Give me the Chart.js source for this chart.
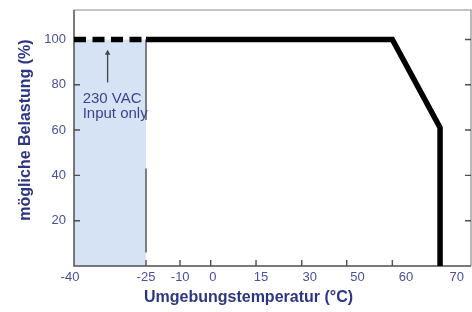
<!DOCTYPE html>
<html><head><meta charset="utf-8">
<script src="https://cdn.jsdelivr.net/npm/chart.js@4.4.1/dist/chart.umd.min.js"></script>
<style>html,body{margin:0;padding:0;background:#fff}</style>
</head><body>
<canvas id="c" width="472" height="312"></canvas>
<script>
// ---- data ----
const xTickValues = [-40, -25, -10, 0, 15, 30, 50, 60, 70];
const yTickValues = [20, 40, 60, 80, 100];
const dashedTemp = [-40, -25];
const dashedLoad = [100, 100];
const solidTemp = [-25, 60, 70, 70];
const solidLoad = [100, 100, 61, 0];
const shadeTemp = [-40, -25];
const shadeLoad = [100, 100];
const boundaryTemp = [-25, -25];
const boundaryUpperLoad = [100, 64.5];
const boundaryLowerLoad = [43, 6];
const arrowTemp = [-33, -33];
const arrowLoad = [81, 94];
const noteLines = ['230 VAC', 'Input only'];
const noteTemp = -38.2;
const noteLoad = [72, 65.3];
const xTitle = 'Umgebungstemperatur (°C)';
const yTitle = 'mögliche Belastung (%)';

const pts = (xs, ys) => xs.map((x, i) => ({x, y: ys[i]}));

// ---- piecewise-linear axis (the original axis is not evenly spaced) ----
class BrokenScale extends Chart.LinearScale {
  _pos(v) {
    const bv = this.options.breakValues, bp = this.options.breakOffsets;
    let i = 0;
    while (i < bv.length - 2 && v > bv[i + 1]) i++;
    return bp[i] + (v - bv[i]) * (bp[i + 1] - bp[i]) / (bv[i + 1] - bv[i]);
  }
  getPixelForValue(v) {
    const a = this._pos(this.min), b = this._pos(this.max);
    return this.getPixelForDecimal((this._pos(v) - a) / (b - a));
  }
  getValueForPixel(px) {
    const a = this._pos(this.min), b = this._pos(this.max);
    const p = a + this.getDecimalForPixel(px) * (b - a);
    const bv = this.options.breakValues, bp = this.options.breakOffsets;
    let i = 0;
    while (i < bp.length - 2 && p > bp[i + 1]) i++;
    return bv[i] + (p - bp[i]) * (bv[i + 1] - bv[i]) / (bp[i + 1] - bp[i]);
  }
  buildTicks() { return this.options.tickValues.map(v => ({value: v})); }
  getPixelForTick(index) {
    const px = this.getPixelForValue(this.ticks[index].value);
    const o = this.options;
    const d = px - this.left;
    return px + Math.max(0, (d - o.labelSpreadFrom) * o.labelSpread) - (d < 1 ? 4 : 0);
  }
}
BrokenScale.id = 'broken';
BrokenScale.defaults = Chart.LinearScale.defaults;
Chart.register(BrokenScale);

const FONT = '"Liberation Sans", Arial, Helvetica, sans-serif';
const tickColor = '#4a4f9e';
const titleColor = '#2d3685';

const framePlugin = {
  id: 'frame',
  afterDatasetDraw(chart, args) {
    if (args.index !== 0) return; // right after the shaded band
    const {ctx, chartArea: ca, scales: {x, y}} = chart;
    ctx.save();
    // top and right edges: lighter
    ctx.strokeStyle = '#8a8a8a';
    ctx.lineWidth = 1.2;
    ctx.beginPath();
    ctx.moveTo(ca.left, ca.top); ctx.lineTo(ca.right, ca.top); ctx.lineTo(ca.right, ca.bottom);
    ctx.stroke();
    // left and bottom axes: darker
    ctx.strokeStyle = '#4f4f4f';
    ctx.lineWidth = 1.5;
    ctx.beginPath();
    ctx.moveTo(ca.left, ca.top); ctx.lineTo(ca.left, ca.bottom); ctx.lineTo(ca.right, ca.bottom);
    ctx.stroke();
    ctx.lineWidth = 1.4;
    ctx.beginPath();
    xTickValues.forEach(v => {
      const px = x.getPixelForValue(v);
      if (px <= ca.left + 1) return;
      ctx.moveTo(px, ca.bottom); ctx.lineTo(px, ca.bottom - 6);
    });
    yTickValues.forEach(v => {
      const py = y.getPixelForValue(v);
      ctx.moveTo(ca.left, py); ctx.lineTo(ca.left + 6, py);
      ctx.moveTo(ca.right, py); ctx.lineTo(ca.right - 6, py);
    });
    ctx.stroke();
    ctx.restore();
  },
  afterDraw(chart) {
    const {ctx, scales: {x, y}} = chart;
    ctx.save();
    ctx.fillStyle = '#3d4393';
    ctx.font = '15px ' + FONT;
    ctx.textAlign = 'left';
    ctx.textBaseline = 'alphabetic';
    noteLines.forEach((t, i) => ctx.fillText(t, x.getPixelForValue(noteTemp), y.getPixelForValue(noteLoad[i])));
    ctx.fillStyle = titleColor;
    ctx.font = 'bold 16px ' + FONT;
    ctx.textAlign = 'center';
    ctx.fillText(xTitle, 248.5, 302);
    ctx.translate(29.5, 130);
    ctx.rotate(-Math.PI / 2);
    ctx.fillText(yTitle, 0, 0);
    ctx.restore();
  }
};

new Chart(document.getElementById('c'), {
  type: 'line',
  data: {
    datasets: [
      { data: pts(shadeTemp, shadeLoad), fill: 'origin', backgroundColor: '#d6e3f4',
        borderColor: 'rgba(0,0,0,0)', borderWidth: 0, pointRadius: 0, order: 3 },
      { data: pts(boundaryTemp, boundaryUpperLoad), borderColor: '#5a5a5a', borderWidth: 1.5,
        pointRadius: 0, fill: false, order: 2 },
      { data: pts(boundaryTemp, boundaryLowerLoad), borderColor: '#5a5a5a', borderWidth: 1.5,
        pointRadius: 0, fill: false, order: 2 },
      { data: pts(arrowTemp, arrowLoad), borderColor: '#444', borderWidth: 1.3,
        pointRadius: [0, 3.2], pointStyle: 'triangle', pointBackgroundColor: '#444',
        pointBorderWidth: 0, fill: false, order: 2 },
      { data: pts(dashedTemp, dashedLoad), borderColor: '#000', borderWidth: 5.5,
        borderDash: [12, 6.5], borderCapStyle: 'butt', pointRadius: 0, fill: false, order: 1 },
      { data: pts(solidTemp, solidLoad), borderColor: '#000', borderWidth: 5.5,
        borderJoinStyle: 'miter', borderCapStyle: 'butt', pointRadius: 0, fill: false, order: 1 }
    ]
  },
  options: {
    responsive: false,
    animation: false,
    devicePixelRatio: 1,
    layout: { autoPadding: false, padding: { top: 10, right: 1, left: 0, bottom: 0 } },
    plugins: { legend: { display: false }, tooltip: { enabled: false } },
    elements: { line: { tension: 0 } },
    scales: {
      x: {
        type: 'broken',
        min: -40, max: 76.8,
        tickValues: xTickValues,
        breakValues: [-40, -25, -10, 0, 15, 30, 50, 60, 70, 80],
        breakOffsets: [0, 72, 106, 136.7, 182, 227.7, 272.7, 318.3, 366, 411.5],
        labelSpreadFrom: 103,
        labelSpread: 0.0636,
        grid: { display: false, drawTicks: false },
        border: { display: false },
        ticks: { autoSkip: false, maxRotation: 0, padding: 4, color: tickColor,
                 font: { family: FONT, size: 13 }, callback: v => String(v) },
        afterFit: s => { s.height = 46; s.paddingLeft = 0; s.paddingRight = 0; s.paddingTop = 0; s.paddingBottom = 0; }
      },
      y: {
        min: 0, max: 113,
        grid: { display: false, drawTicks: false },
        border: { display: false },
        afterBuildTicks: s => { s.ticks = yTickValues.map(v => ({value: v})); },
        ticks: { padding: 8, color: tickColor, font: { family: FONT, size: 13 },
                 callback: v => String(v) },
        afterFit: s => { s.width = 74; s.paddingTop = 0; s.paddingBottom = 0; s.paddingLeft = 0; s.paddingRight = 0; }
      }
    }
  },
  plugins: [framePlugin]
});
</script>
</body></html>
